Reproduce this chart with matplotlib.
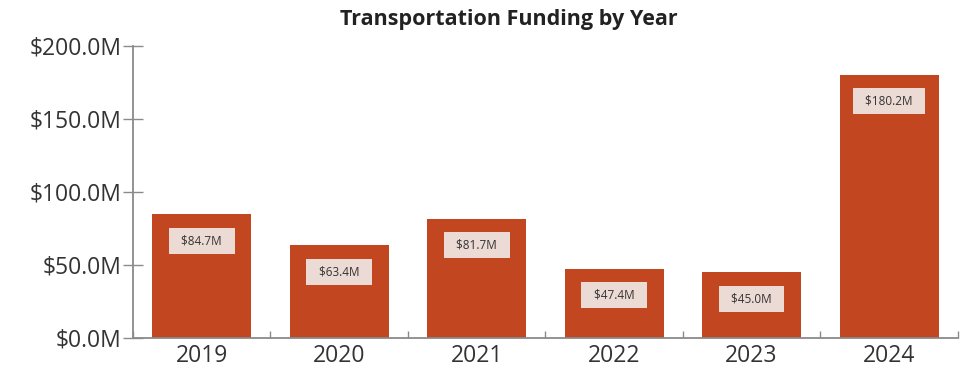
"""Transportation funding per year — bar chart with value tags."""
import numpy as np
import matplotlib; matplotlib.use("Agg")
import matplotlib.pyplot as plt

plt.rcParams["font.family"] = ["Open Sans", "DejaVu Sans"]

# ── Data ──────────────────────────────────────────────────────────────
years = ["2019", "2020", "2021", "2022", "2023", "2024"]
funding = [84.7, 63.4, 81.7, 47.4, 45.0, 180.2]   # $M
y_ticks = [0, 50, 100, 150, 200]

BAR_COLOR = "#c2461f"
TAG_COLOR = "#ecdad4"
AXIS_COLOR = "#8a8a8a"

fig = plt.figure(figsize=(9.67, 3.72), dpi=100)
fig.patch.set_facecolor("white")
ax = fig.add_axes([0.1375, 0.0914, 0.853, 0.785])

x = np.arange(len(years))
ax.bar(x, funding, width=0.72, color=BAR_COLOR, zorder=2)

# value tags sitting just under each bar top
for xi, v in zip(x, funding):
    ax.annotate(f"  ${v:.1f}M  ", (xi, v), xytext=(0, -19), textcoords="offset points",
                ha="center", va="center", fontsize=8.5, color="#333333",
                bbox=dict(boxstyle="square,pad=0.55", fc=TAG_COLOR, ec="none"),
                zorder=3)

ax.set_xlim(-0.5, len(years) - 0.5)
ax.set_ylim(0, 200)

ax.set_yticks(y_ticks)
ax.set_yticklabels([f"${t:.1f}M" for t in y_ticks])
ax.set_xticks(x)
ax.set_xticklabels(years)
ax.set_xticks(np.arange(-0.5, len(years)), minor=True)

ax.tick_params(axis="y", direction="inout", length=14, width=1, color=AXIS_COLOR,
               labelsize=16.5, labelcolor="#333333", pad=1)
ax.tick_params(axis="x", which="major", length=0, labelsize=16.5,
               labelcolor="#333333", pad=4)
ax.tick_params(axis="x", which="minor", direction="in", length=5, width=1,
               color=AXIS_COLOR)

for side in ("top", "right"):
    ax.spines[side].set_visible(False)
for side in ("left", "bottom"):
    ax.spines[side].set_color(AXIS_COLOR)
    ax.spines[side].set_linewidth(1.3)

fig.text(0.526, 0.947, "Transportation Funding by Year", ha="center", va="center",
         fontsize=15.5, fontweight="bold", color="#222222")

fig.savefig("out.png", dpi=100, facecolor="white")
plt.close(fig)
